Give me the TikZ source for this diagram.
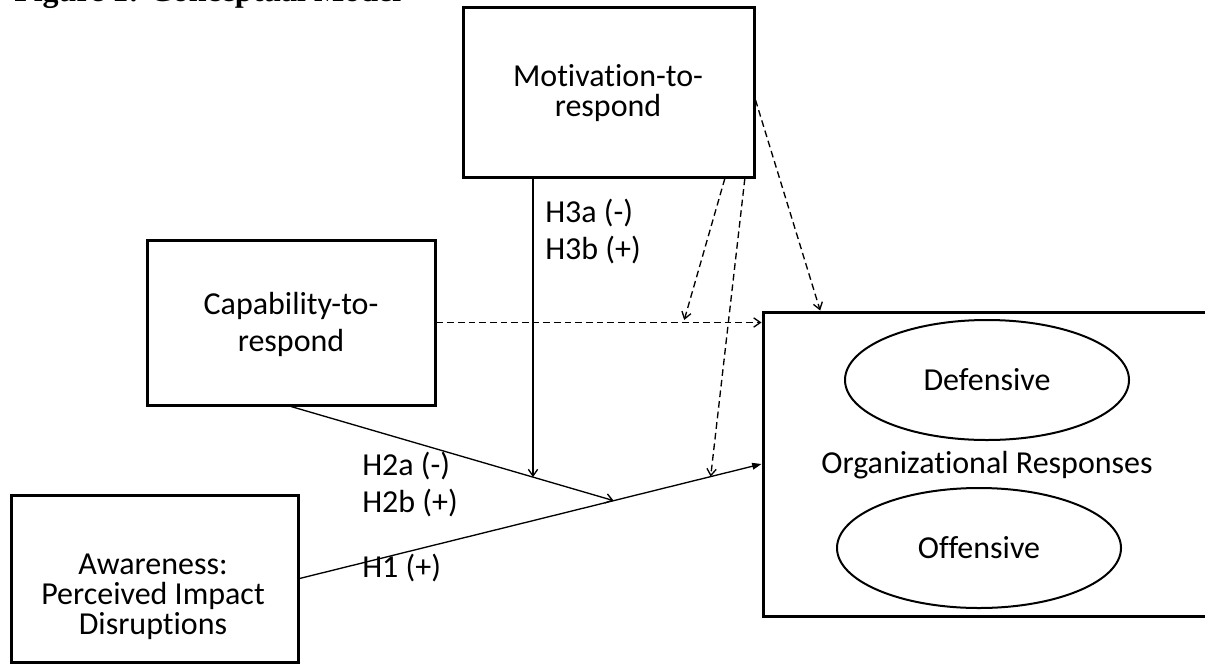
\documentclass[tikz,border=0pt]{standalone}
\usepackage{fontspec}
\setmainfont[Ligatures=NoCommon]{Carlito}
\newfontfamily\titlefont{Liberation Serif}
\usepackage{tikz}
\usetikzlibrary{arrows.meta}
\usetikzlibrary{shapes.geometric}

\tikzset{
  box/.style={draw, line width=2.25pt, inner sep=0pt},
  boxtext/.style={align=center, anchor=base, inner sep=0pt},
  hyp/.style={align=left, anchor=base west, inner sep=0pt},
  oval/.style={draw, ellipse, line width=1.5pt, inner sep=0pt, minimum width=213pt, minimum height=90pt},
  link/.style={line width=1pt, -{Straight Barb[length=5pt,width=7pt]}},
  dlink/.style={link, dash pattern=on 5pt off 3pt},
}

\begin{document}
\begin{tikzpicture}[x=0.75pt, y=-0.75pt, font=\fontsize{24}{27.75}\selectfont]
            \useasboundingbox (0,0) rectangle (1205,664);
            \clip (0,0) rectangle (1205,664);

            \node[anchor=base west, inner sep=0pt, font={\titlefont\bfseries\fontsize{24}{28}\selectfont}] (title) at (14,1) {Figure 1: Conceptual Model};

            \node[box, minimum width=218.25pt, minimum height=127.5pt] (mot) at (608.5,92) {};
            \node[box, minimum width=216pt, minimum height=123.75pt] (cap) at (291,322.5) {};
            \node[box, minimum width=215.25pt, minimum height=125.25pt] (aware) at (154.5,578.5) {};
            \node[box, minimum width=360pt, minimum height=228pt] (org) at (1003,464) {};

            \node[boxtext, font=\fontsize{24}{22}\selectfont] (mottxt) at (608,116) {Motivation-to-\\respond};
            \node[boxtext] (captxt) at (291,351) {Capability-to-\\respond};
            \node[boxtext, font=\fontsize{24}{22.5}\selectfont] (awaretxt) at (153,634) {Awareness:\\Perceived Impact\\Disruptions};
            \node[anchor=base, inner sep=0pt] (orgtxt) at (987,473) {Organizational Responses};
            \node[oval] (def) at (987,380) {Defensive};
            \node[oval] (off) at (979,548) {Offensive};

            \node[hyp] (h3) at (545,259) {H3a (-)\\H3b (+)};
            \node[hyp] (h2) at (362,512) {H2a (-)\\H2b (+)};
            \node[hyp] (h1) at (362,577) {H1 (+)};

            \path (aware.east) -- (org.west) coordinate[pos=0.68] (onh1) coordinate[pos=0.89] (onh1b);
            \path (cap.south) -- (onh1) coordinate[pos=0.75] (onh2);
            \path (cap.east) -- (cap.east -| org.west) coordinate[pos=0.76] (oncap);

            \draw [line width=1pt, -{Triangle[length=7pt,width=5pt]}] (aware.east) -- (org.west);
            \draw [link] (cap.south) -- (onh1);
            \draw [link] (onh2 |- mot.south) -- (onh2);

            \draw [dlink] (cap.east) -- (cap.east -| org.west);
            \draw [dlink, shorten >=2pt] ([xshift=-23pt]mot.south east) -- (oncap);
            \draw [dlink] ([xshift=-8pt]mot.south east) -- (onh1b);
            \draw [dlink] ([yshift=-6pt]mot.east) -- ([xshift=44pt]org.north west);
        \end{tikzpicture}
\end{document}
